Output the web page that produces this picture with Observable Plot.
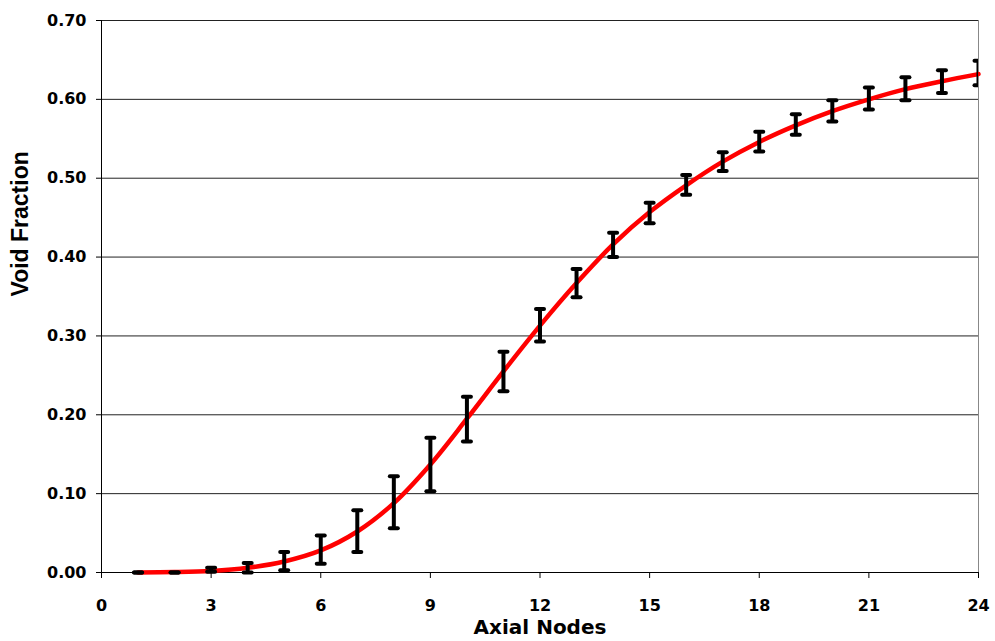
<!DOCTYPE html>
<html>
<head>
<meta charset="utf-8">
<script src="https://cdn.jsdelivr.net/npm/d3@7"></script>
<script src="https://cdn.jsdelivr.net/npm/@observablehq/plot@0.6"></script>
<style>
  html, body { margin: 0; padding: 0; background: #fff; }
  #chart { width: 995px; height: 641px; }
</style>
</head>
<body>
<div id="chart"></div>
<script>
// ---- data ----
const nodes  = [1, 2, 3, 4, 5, 6, 7, 8, 9, 10, 11, 12, 13, 14, 15, 16, 17, 18, 19, 20, 21, 22, 23, 24];
const fitted = [0.000, 0.0005, 0.002, 0.006, 0.014, 0.028, 0.052, 0.088, 0.137, 0.195, 0.255, 0.313,
                0.367, 0.416, 0.457, 0.491, 0.521, 0.546, 0.567, 0.585, 0.600, 0.613, 0.623, 0.632];
const lower  = [0.000, 0.000, 0.001, 0.000, 0.003, 0.011, 0.026, 0.056, 0.103, 0.166, 0.230, 0.293,
                0.349, 0.400, 0.443, 0.479, 0.509, 0.534, 0.555, 0.572, 0.587, 0.599, 0.608, 0.618];
const upper  = [0.000, 0.000, 0.006, 0.012, 0.026, 0.047, 0.079, 0.122, 0.171, 0.223, 0.280, 0.334,
                0.385, 0.431, 0.469, 0.504, 0.533, 0.559, 0.581, 0.599, 0.615, 0.628, 0.637, 0.649];
const xTicks = [0, 3, 6, 9, 12, 15, 18, 21, 24];
const yTicks = [0, 0.1, 0.2, 0.3, 0.4, 0.5, 0.6, 0.7];
const xLabel = "Axial Nodes";
const yLabel = "Void Fraction";

const data = nodes.map((n, i) => ({node: n, fit: fitted[i], lo: lower[i], hi: upper[i]}));
const xMax = xTicks[xTicks.length - 1];

// horizontal cap symbol for the error bars
const cap = { draw(ctx) { ctx.moveTo(-4, 0); ctx.lineTo(4, 0); } };

function barMarks(opts) {
  return [
    Plot.ruleX(data, {x: "node", y1: "lo", y2: "hi", stroke: "#000", strokeWidth: 4, ...opts}),
    Plot.dot(data, {x: "node", y: "hi", symbol: cap, fill: "none", stroke: "#000", strokeWidth: 4, strokeLinecap: "round", ...opts}),
    Plot.dot(data, {x: "node", y: "lo", symbol: cap, fill: "none", stroke: "#000", strokeWidth: 4, strokeLinecap: "round", ...opts})
  ];
}

const chart = Plot.plot({
  width: 995,
  height: 641,
  marginLeft: 101,
  marginRight: 17,
  marginTop: 20,
  marginBottom: 69,
  style: {fontFamily: "'DejaVu Sans', sans-serif", fontWeight: "bold", fontSize: "16px", color: "#000", background: "#fff"},
  x: {domain: [0, xMax]},
  y: {domain: [0, 0.7]},
  marks: [
    Plot.ruleY(yTicks, {stroke: "#222", strokeWidth: 1}),
    Plot.ruleX([xMax], {stroke: "#888", strokeWidth: 1}),
    Plot.axisX({ticks: xTicks, tickSize: 6, tickPadding: 21, label: null, fontSize: 16}),
    Plot.axisY({ticks: yTicks, tickSize: 5, tickPadding: 10, tickFormat: ".2f", label: null, fontSize: 16}),
    Plot.ruleX([0], {stroke: "#000", strokeWidth: 1}),
    Plot.ruleY([0], {stroke: "#000", strokeWidth: 1}),
    Plot.line(data, {x: "node", y: "fit", curve: "catmull-rom", stroke: "#ff0000", strokeWidth: 4.5}),
    ...barMarks({filter: d => d.node < xMax}),
    ...barMarks({filter: d => d.node >= xMax, clip: true}),
    Plot.text([xLabel], {frameAnchor: "bottom", dy: 55, lineAnchor: "middle", fontSize: 20, fontWeight: "bold", fill: "#000"}),
    Plot.text([yLabel], {frameAnchor: "left", dx: -81, rotate: -90, lineAnchor: "middle", fontSize: 23, fontWeight: "bold", fontFamily: "'Liberation Sans', Arial, sans-serif", fill: "#000"})
  ]
});

document.getElementById("chart").appendChild(chart);
</script>
</body>
</html>
